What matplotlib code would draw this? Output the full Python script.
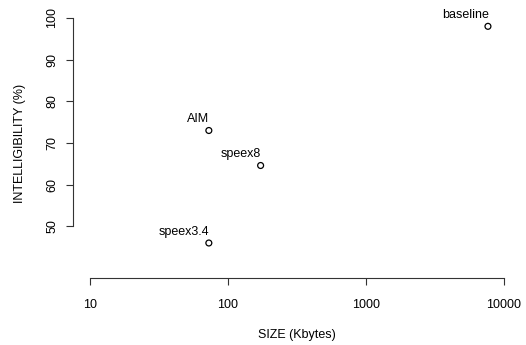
import matplotlib
matplotlib.use("Agg")
import matplotlib.pyplot as plt
from matplotlib.ticker import FixedLocator, FixedFormatter, NullLocator

# data
names = ["baseline", "AIM", "speex8", "speex3.4"]
size_kb = [7650, 73, 173, 73]
intelligibility = [98.0, 73.0, 64.6, 46.0]

x_ticks = [10, 100, 1000, 10000]
x_tick_labels = ["10", "100", "1000", "10000"]
y_ticks = [50, 60, 70, 80, 90, 100]

plt.rcParams.update({
    "font.family": ["Liberation Sans", "DejaVu Sans"],
    "font.size": 9,
})

W, H = 526, 345
fig = plt.figure(figsize=(W / 100, H / 100), dpi=100)
# plot region in pixels: x 73..520.6, y 8..278 (from top)
ax = fig.add_axes([73 / W, (H - 278) / H, (520.6 - 73) / W, (278 - 8) / H])

ax.set_xscale("log")
ax.set_xlim(10 / 10 ** 0.12, 10000 * 10 ** 0.12)
ax.set_ylim(37.6, 102.4)

ax.scatter(size_kb, intelligibility, s=18, facecolors="none",
           edgecolors="black", linewidths=0.9, zorder=3)
for n, xv, yv in zip(names, size_kb, intelligibility):
    ax.annotate(n, (xv, yv), xytext=(0.5, 6), textcoords="offset points",
                ha="right", va="baseline", fontsize=9)

for s in ("top", "right"):
    ax.spines[s].set_visible(False)
ax.spines["left"].set_bounds(50, 100)
ax.spines["bottom"].set_bounds(10, 10000)
for s in ("left", "bottom"):
    ax.spines[s].set_linewidth(0.8)
    ax.spines[s].set_color("#333333")

ax.xaxis.set_major_locator(FixedLocator(x_ticks))
ax.xaxis.set_major_formatter(FixedFormatter(x_tick_labels))
ax.xaxis.set_minor_locator(NullLocator())
ax.set_yticks(y_ticks)
ax.tick_params(axis="both", length=5, width=0.8, color="#333333", labelsize=9)
ax.tick_params(axis="x", pad=10)
ax.tick_params(axis="y", pad=5.5)
for lbl in ax.get_yticklabels():
    lbl.set_rotation(90)
    lbl.set_va("center")

ax.set_xlabel("SIZE (Kbytes)", fontsize=9, labelpad=13)
ax.set_ylabel("INTELLIGIBILITY (%)", fontsize=9, labelpad=14.5)

fig.savefig("out.png", dpi=100, facecolor="white")
